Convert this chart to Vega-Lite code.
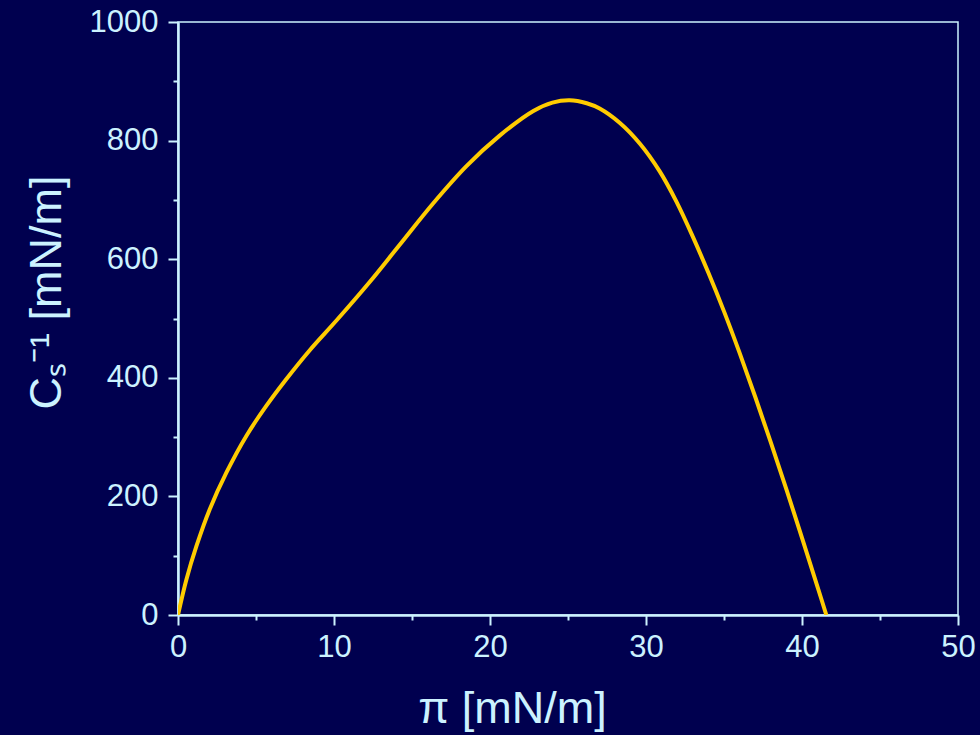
{
  "$schema": "https://vega.github.io/schema/vega-lite/v6.json",
  "width": 780,
  "height": 593,
  "autosize": {"type": "none"},
  "padding": {"left": 178, "top": 22, "right": 22, "bottom": 120},
  "background": "#00004f",
  "config": {
    "view": {"stroke": "#ccf2ff", "strokeWidth": 1.5, "fill": "#00004f"},
    "font": "Liberation Sans"
  },
  "data": {
    "values": [
      {"pi": 0, "cs": 0},
      {"pi": 0.54, "cs": 60},
      {"pi": 1.18, "cs": 116},
      {"pi": 2.03, "cs": 178},
      {"pi": 3.1, "cs": 240},
      {"pi": 4.38, "cs": 302},
      {"pi": 5.67, "cs": 353},
      {"pi": 6.95, "cs": 398},
      {"pi": 8.46, "cs": 447},
      {"pi": 10.17, "cs": 497},
      {"pi": 12.3, "cs": 562},
      {"pi": 14.2, "cs": 624},
      {"pi": 16.35, "cs": 694},
      {"pi": 18.49, "cs": 757},
      {"pi": 20.6, "cs": 808},
      {"pi": 22.78, "cs": 850},
      {"pi": 24.0, "cs": 864},
      {"pi": 25.1, "cs": 868},
      {"pi": 26.2, "cs": 863},
      {"pi": 27.03, "cs": 854},
      {"pi": 28.31, "cs": 830},
      {"pi": 29.6, "cs": 795},
      {"pi": 30.88, "cs": 748},
      {"pi": 31.95, "cs": 697},
      {"pi": 33.0, "cs": 638},
      {"pi": 34.0, "cs": 577},
      {"pi": 35.0, "cs": 512},
      {"pi": 36.0, "cs": 442},
      {"pi": 37.0, "cs": 368},
      {"pi": 38.0, "cs": 291},
      {"pi": 39.0, "cs": 212},
      {"pi": 40.0, "cs": 130},
      {"pi": 41.0, "cs": 47},
      {"pi": 41.56, "cs": 0}
    ]
  },
  "mark": {"type": "line", "color": "#ffcc00", "strokeWidth": 4, "interpolate": "catmull-rom", "clip": true},
  "encoding": {
    "x": {
      "field": "pi",
      "type": "quantitative",
      "scale": {"domain": [0, 50], "nice": false},
      "axis": {
        "title": "π [mN/m]",
        "values": [0, 5, 10, 15, 20, 25, 30, 35, 40, 45, 50],
        "labelExpr": "datum.value % 10 === 0 ? datum.label : ''",
        "grid": false,
        "domainColor": "#ccf2ff",
        "domainWidth": 2.5,
        "tickColor": "#ccf2ff",
        "tickWidth": 2,
        "tickSize": {"condition": {"test": "datum.value % 10 === 0", "value": 10}, "value": 5},
        "labelColor": "#ccf2ff",
        "labelFontSize": 31,
        "labelPadding": 7,
        "labelFlush": false,
        "titleColor": "#ccf2ff",
        "titleFontSize": 45,
        "titleFontWeight": "normal",
        "titleX": 334,
        "titleY": 107,
        "titleAlign": "center",
        "titleBaseline": "alphabetic"
      }
    },
    "y": {
      "field": "cs",
      "type": "quantitative",
      "scale": {"domain": [0, 1000], "nice": false},
      "axis": {
        "title": "Cₛ⁻¹ [mN/m]",
        "values": [0, 100, 200, 300, 400, 500, 600, 700, 800, 900, 1000],
        "labelExpr": "datum.value % 200 === 0 ? datum.label : ''",
        "format": "d",
        "grid": false,
        "domainColor": "#ccf2ff",
        "domainWidth": 2.5,
        "tickColor": "#ccf2ff",
        "tickWidth": 2,
        "tickSize": {"condition": {"test": "datum.value % 200 === 0", "value": 10}, "value": 5},
        "labelColor": "#ccf2ff",
        "labelFontSize": 31,
        "labelPadding": 10,
        "labelFlush": false,
        "titleColor": "#ccf2ff",
        "titleFontSize": 45,
        "titleFontWeight": "normal",
        "titleAngle": 270,
        "titleX": -118,
        "titleY": 270,
        "titleAlign": "center",
        "titleBaseline": "alphabetic"
      }
    }
  }
}
